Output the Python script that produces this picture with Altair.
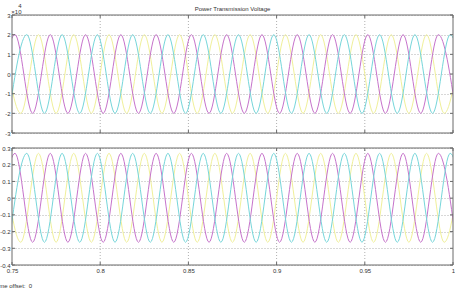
import altair as alt
import pandas as pd

# ---------------- data ----------------
X_TICKS = [0.75, 0.8, 0.85, 0.9, 0.95, 1.0]
X_GRID = [0.8, 0.85, 0.9, 0.95]
TOP_Y_TICKS = [-30000, -20000, -10000, 0, 10000, 20000, 30000]
BOT_Y_TICKS = [-0.4, -0.3, -0.2, -0.1, 0.0, 0.1, 0.2, 0.3]
TOP_DOMAIN = [-30000, 30000]
BOT_DOMAIN = [-0.4, 0.3]
X_DOMAIN = [0.75, 1.0]

PHASES = ["yellow", "magenta", "cyan"]
COLORS = ["#f0f09a", "#c673cb", "#76d6da"]

# times of the successive extrema (peak / trough) of each trace
YELLOW_EXTREMA_T = [0.745, 0.755, 0.765, 0.775, 0.785, 0.795, 0.805, 0.815, 0.825,
                    0.835, 0.845, 0.855, 0.865, 0.875, 0.885, 0.895, 0.905, 0.915,
                    0.925, 0.935, 0.945, 0.955, 0.965, 0.975, 0.985, 0.995, 1.005]
MAGENTA_EXTREMA_T = [0.7417, 0.7517, 0.7617, 0.7717, 0.7817, 0.7917, 0.8017, 0.8117,
                     0.8217, 0.8317, 0.8417, 0.8517, 0.8617, 0.8717, 0.8817, 0.8917,
                     0.9017, 0.9117, 0.9217, 0.9317, 0.9417, 0.9517, 0.9617, 0.9717,
                     0.9817, 0.9917, 1.0017]
CYAN_EXTREMA_T = [0.7484, 0.7584, 0.7684, 0.7784, 0.7884, 0.7984, 0.8084, 0.8184,
                  0.8284, 0.8384, 0.8484, 0.8584, 0.8684, 0.8784, 0.8884, 0.8984,
                  0.9084, 0.9184, 0.9284, 0.9384, 0.9484, 0.9584, 0.9684, 0.9784,
                  0.9884, 0.9984, 1.0084]
FIRST_IS_PEAK = [True, False, False]          # yellow, magenta, cyan

TOP_PEAK, TOP_TROUGH = 20000, -20000
BOT_PEAK, BOT_TROUGH = 0.268, -0.264

EXTREMA = [YELLOW_EXTREMA_T, MAGENTA_EXTREMA_T, CYAN_EXTREMA_T]

FONT = "Liberation Sans"
FS = 6
FRAME = "#6a6a6a"
GRID = "#b0b0b0"
LABEL = "#333333"
MINUS = "\u2212"


def series_df(times, first_peak, peak, trough):
    rows = []
    for i, t in enumerate(times):
        is_peak = (i % 2 == 0) == first_peak
        rows.append({"t": t, "v": peak if is_peak else trough})
    return pd.DataFrame(rows)


x_axis = alt.Axis(values=X_TICKS, domain=False, ticks=False, grid=False,
                  labelFlush=False, labelFontSize=FS, labelFont=FONT, labelColor=LABEL,
                  labelPadding=2,
                  labelExpr=f"replace(format(datum.value, '.2~f'), '{MINUS}', '-')",
                  title="Time offset:\u00a0 0", titleX=-18, titleY=20,
                  titleAlign="left", titleBaseline="middle", titleAngle=0,
                  titleFont=FONT, titleFontSize=FS, titleFontWeight="normal",
                  titleColor=LABEL)
X = alt.X("t:Q", scale=alt.Scale(domain=X_DOMAIN, nice=False, zero=False), axis=x_axis)
X2 = alt.X2("t2:Q")


def panel(peak, trough, domain, yticks, yrange, label_expr, ytitle=None):
    axis_kw = dict(values=yticks, orient="left", domain=False, ticks=False,
                   grid=True, gridDash=[1, 2], gridColor=GRID, gridWidth=1,
                   labelFontSize=FS, labelFont=FONT, labelColor=LABEL, labelPadding=2,
                   labelOverlap=False, labelExpr=label_expr)
    if ytitle is not None:
        axis_kw.update(title=ytitle, titleAngle=0, titleAlign="right", titleX=9,
                       titleY=-13, titleBaseline="top", titleLineHeight=6,
                       titleFont=FONT, titleFontSize=FS, titleFontWeight="normal",
                       titleColor=LABEL)
    else:
        axis_kw.update(title=None)
    Y = alt.Y("v:Q", scale=alt.Scale(domain=domain, range=yrange, nice=False, zero=False),
              axis=alt.Axis(**axis_kw))
    Y2 = alt.Y2("v2:Q")

    layers = []
    # vertical dotted grid
    vg = pd.DataFrame({"t": X_GRID, "v": [domain[0]] * len(X_GRID),
                       "v2": [domain[1]] * len(X_GRID)})
    layers.append(alt.Chart(vg).mark_rule(color=GRID, strokeDash=[1, 2], strokeWidth=1)
                  .encode(x=X, y=Y, y2=Y2))
    # traces
    for name, color, times, fp in zip(PHASES, COLORS, EXTREMA, FIRST_IS_PEAK):
        df = series_df(times, fp, peak, trough)
        layers.append(alt.Chart(df).mark_line(color=color, strokeWidth=1,
                                              interpolate="monotone", clip=True)
                      .encode(x=X, y=Y))
    # inward ticks
    bt = pd.DataFrame({"t": X_TICKS, "v": [domain[0]] * len(X_TICKS),
                       "v2": [domain[0]] * len(X_TICKS)})
    tt = pd.DataFrame({"t": X_TICKS, "v": [domain[1]] * len(X_TICKS),
                       "v2": [domain[1]] * len(X_TICKS)})
    layers.append(alt.Chart(bt).mark_rule(color=FRAME, y2Offset=-3).encode(x=X, y=Y, y2=Y2))
    layers.append(alt.Chart(tt).mark_rule(color=FRAME, y2Offset=3).encode(x=X, y=Y, y2=Y2))
    lt = pd.DataFrame({"t": [X_DOMAIN[0]] * len(yticks), "t2": [X_DOMAIN[0]] * len(yticks),
                       "v": yticks})
    rt = pd.DataFrame({"t": [X_DOMAIN[1]] * len(yticks), "t2": [X_DOMAIN[1]] * len(yticks),
                       "v": yticks})
    layers.append(alt.Chart(lt).mark_rule(color=FRAME, x2Offset=3).encode(x=X, x2=X2, y=Y))
    layers.append(alt.Chart(rt).mark_rule(color=FRAME, x2Offset=-3).encode(x=X, x2=X2, y=Y))
    # frame
    fr = pd.DataFrame({"t": [X_DOMAIN[0]], "t2": [X_DOMAIN[1]],
                       "v": [domain[0]], "v2": [domain[1]]})
    layers.append(alt.Chart(fr).mark_rect(filled=False, stroke=FRAME, strokeWidth=1)
                  .encode(x=X, x2=X2, y=Y, y2=Y2))
    return alt.layer(*layers)


top = panel(TOP_PEAK, TOP_TROUGH, TOP_DOMAIN, TOP_Y_TICKS, [118, 0],
            f"replace(format(datum.value / 10000, 'd'), '{MINUS}', '-')",
            ytitle=["4", "\u00d710"])
bottom = panel(BOT_PEAK, BOT_TROUGH, BOT_DOMAIN, BOT_Y_TICKS, [250, 133],
               f"replace(format(datum.value, '.1~f'), '{MINUS}', '-')")

chart = (alt.layer(top, bottom)
         .resolve_scale(y="independent")
         .properties(width=441, height=250,
                     title=alt.TitleParams("Power Transmission Voltage", fontSize=FS,
                                           font=FONT, fontWeight="normal", color=LABEL,
                                           anchor="middle", baseline="middle", offset=2,
                                           dy=15),
                     autosize=alt.AutoSizeParams(type="none"),
                     padding={"left": 12, "top": 15, "right": 2, "bottom": 23},
                     background="white")
         .configure_view(stroke="transparent"))

chart.save("out.html", embed_options={"renderer": "svg", "actions": False})
